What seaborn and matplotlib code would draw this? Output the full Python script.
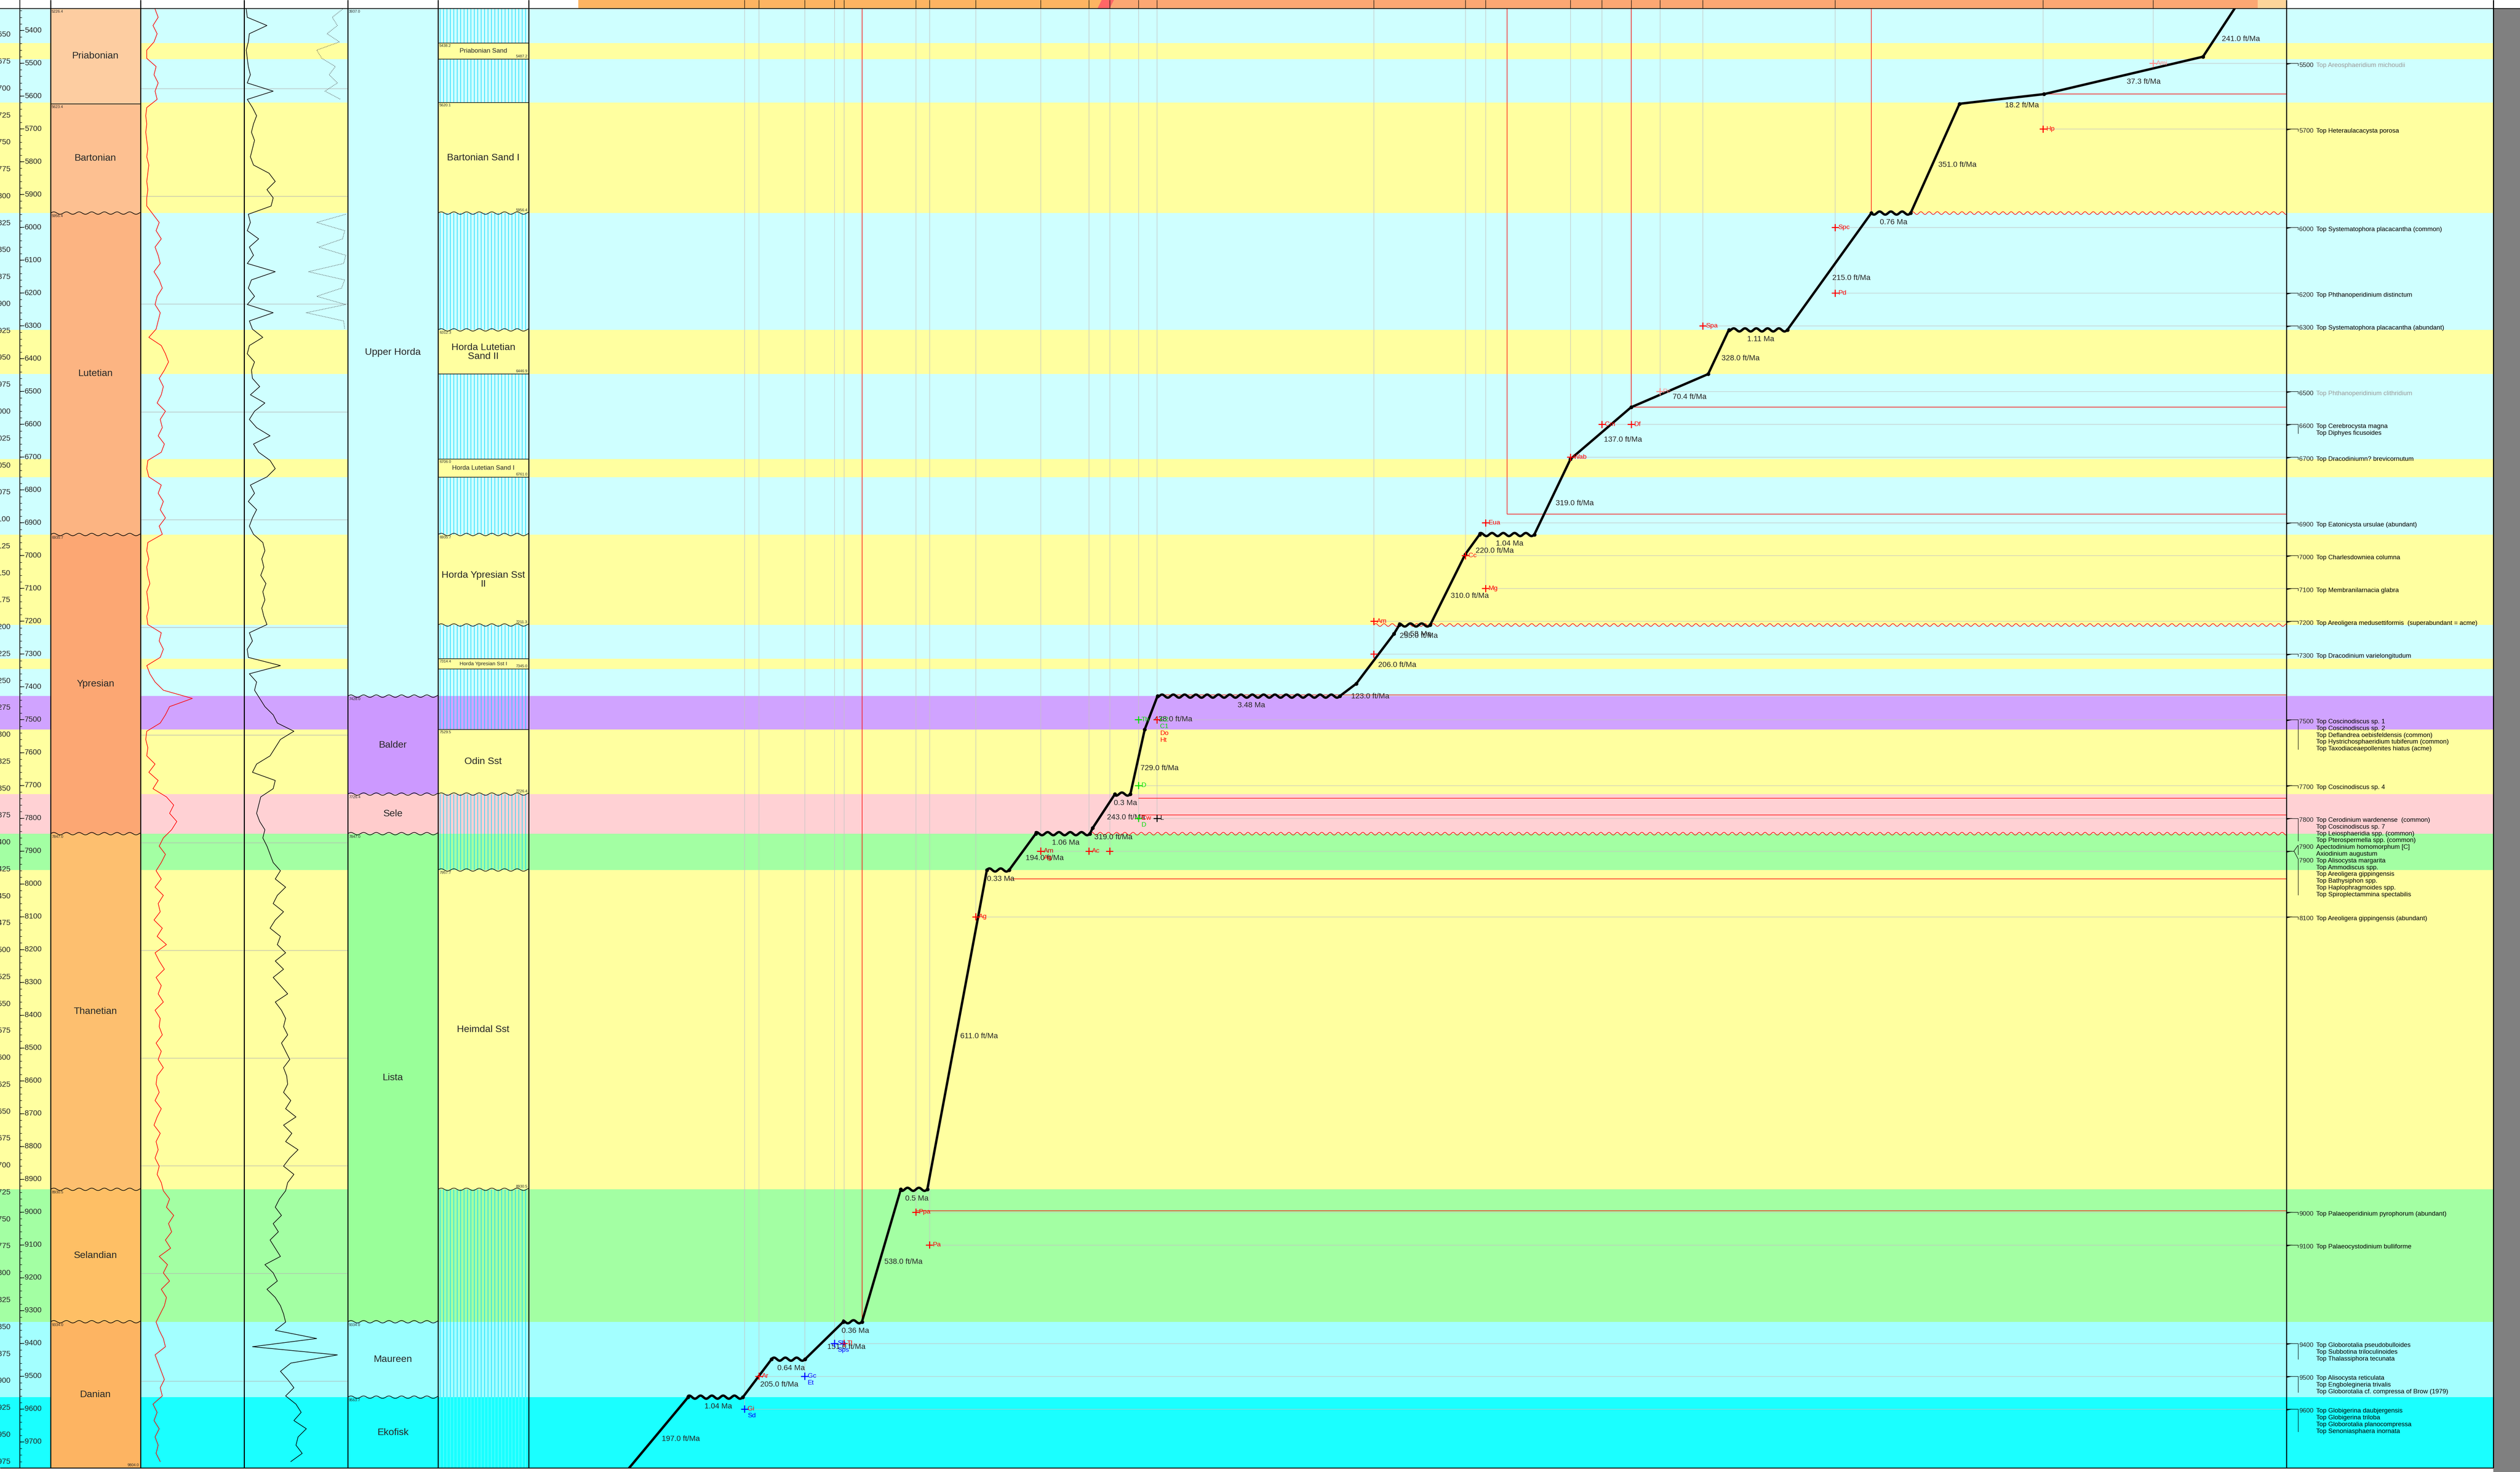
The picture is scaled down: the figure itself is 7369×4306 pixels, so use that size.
import numpy as np
import pandas as pd
import matplotlib
matplotlib.use("Agg")
import matplotlib.pyplot as plt
import seaborn as sns
from matplotlib.patches import Rectangle

sns.set_theme(style="white")
plt.rcParams['font.family'] = ['Liberation Sans', 'DejaVu Sans']

# ---------------- data ----------------
# lithology bands behind the tracks (depth in ft)
band_top = [5333.3, 5438.2, 5487.2, 5620.1, 5956.4, 6312.3, 6446.9, 6706.0, 6761.0, 6935.7, 7211.3,
            7314.4, 7345.0, 7428.0, 7529.5, 7726.4, 7847.0, 7957.7, 8930.5, 9334.0, 9563.7]
band_base = band_top[1:] + [9804.0]
band_kind = ['shale', 'sand', 'shale', 'sand', 'shale', 'sand', 'shale', 'sand', 'shale', 'sand', 'shale',
             'sand', 'shale', 'balder', 'sand', 'sele', 'lista', 'sand', 'lista', 'maureen', 'ekofisk']
kind_color = {'shale': '#CFFFFF', 'sand': '#FFFFA0', 'balder': '#D0A3FF', 'sele': '#FFD1D4',
              'lista': '#A3FFA3', 'maureen': '#A3FFFF', 'ekofisk': '#1AFFFF'}

# chronostratigraphy
stage_names = ['Priabonian', 'Bartonian', 'Lutetian', 'Ypresian', 'Thanetian', 'Selandian', 'Danian']
stage_top = [5226.4, 5623.4, 5956.4, 6935.7, 7847.0, 8930.5, 9334.0]
stage_base = [5623.4, 5956.4, 6935.7, 7847.0, 8930.5, 9334.0, 9804.0]
stage_colors = ['#FDCDA1', '#FDC091', '#FCB482', '#FCA773', '#FDBF6F', '#FEBF65', '#FDB462']
stage_wavy = [False, False, True, True, True, True, True]

# lithostratigraphy
fm_names = ['Upper Horda', 'Balder', 'Sele', 'Lista', 'Maureen', 'Ekofisk']
fm_top = [3937.0, 7428.0, 7726.4, 7847.0, 9334.0, 9563.7]
fm_base = [7428.0, 7726.4, 7847.0, 9334.0, 9563.7, 9804.0]
fm_colors = ['#CCFFFF', '#CC99FF', '#FFCCCC', '#99FF99', '#99FFFF', '#1AFFFF']

# sand units
sand_names = ['Priabonian Sand', 'Bartonian Sand I', 'Horda Lutetian\nSand II', 'Horda Lutetian Sand I',
              'Horda Ypresian Sst\nII', 'Horda Ypresian Sst I', 'Odin Sst', 'Heimdal Sst']
sand_top = [5438.2, 5620.1, 6312.3, 6706.0, 6935.7, 7314.4, 7529.5, 7957.7]
sand_base = [5487.2, 5956.4, 6446.9, 6761.0, 7211.3, 7345.0, 7726.4, 8930.5]
sand_wavy = [5956.4, 6312.3, 6935.7, 7211.3, 7726.4, 7957.7, 8930.5]

# well logs, sampled every 25 ft from 5335 ft (percent of track width)
log_depth = np.arange(5335, 9761, 25)
gr_pct = [14, 17, 12, 16, 13, 6, 6, 15, 13, 17, 14, 16,
          6, 5, 6, 5, 6, 7, 6, 8, 7, 6, 7, 6, 6,
          12, 18, 15, 20, 14, 17, 19, 13, 18, 21, 16, 14, 19, 17, 15,
          8, 20, 24, 27, 23,
          18, 22, 20, 16, 24, 19, 21, 17, 23, 20,
          7, 6, 8,
          20, 17, 22, 19, 24, 18, 21,
          7, 6, 8, 6, 7, 9, 6, 7, 8, 6, 7,
          20, 18, 22, 19, 6, 9, 14, 22,
          50, 28, 24, 19,
          6, 5, 7, 6, 14, 8, 17, 12,
          25, 32, 28, 35, 30,
          22, 18, 24, 20,
          15, 20, 14, 22, 17, 19, 13, 21, 16, 25, 14, 18, 23, 15, 20, 17, 22, 14, 19,
          18, 21, 15, 20, 17, 22, 16,
          15, 18, 14, 20, 16, 13, 19, 15, 17, 14, 18, 16, 20,
          22, 28, 25, 32, 27, 30, 24, 29, 18, 26, 22, 28, 20, 25, 23, 19,
          15, 18, 22, 24, 14, 17, 20, 23, 19, 21,
          12, 16, 13, 18, 14, 17, 15, 19]
res_pct = [2, 3, 22, 5, 4, 2, 3, 4, 6, 3, 28, 3,
           8, 12, 9, 7, 10, 8, 6, 9, 24, 30, 22, 28, 26,
           4, 6, 3, 14, 5, 9, 3, 30, 7, 4, 10, 3, 28, 5, 8,
           18, 5, 3, 10, 7,
           8, 15, 6, 20, 10, 5, 12, 25, 9, 14,
           25, 30, 22,
           6, 10, 4, 12, 8, 5, 9,
           18, 20, 17, 19, 16, 21, 18, 20, 17, 19, 22,
           5, 8, 3, 4, 35, 5, 12, 10,
           15, 20, 28, 32,
           48, 35, 30, 25, 12, 8, 30, 28,
           16, 14, 12, 15, 20,
           18, 22, 25, 28,
           35, 30, 40, 32, 28, 38, 30, 25, 35, 32, 40, 30, 38, 28, 35, 42, 30, 36, 40,
           38, 42, 36, 40, 44, 38, 41,
           42, 38, 45, 40, 50, 38, 46, 40, 52, 44, 38, 48, 42,
           40, 34, 30, 36, 28, 33, 25, 30, 35, 20, 28, 32, 22, 30, 35, 38,
           40, 30, 70, 8, 90, 45, 35, 42, 48, 40,
           50, 55, 48, 60, 52, 50, 56, 45]
son1_depth = np.arange(5335, 5611, 25)
son1_pct = [95, 85, 90, 80, 92, 70, 75, 88, 82, 90, 78, 93]
son2_depth = np.arange(5960, 6311, 25)
son2_pct = [98, 70, 97, 95, 72, 98, 96, 62, 97, 94, 70, 98, 60, 96, 97]

# age-depth line (age Ma, depth ft)
age_pts = [34.70, 35.43, 38.42, 40.01, 40.93, 41.67, 43.25, 44.35, 44.74, 46.19, 47.33, 48.01, 49.04,
           49.31, 49.97, 50.55, 50.65, 51.36, 51.67, 55.10, 55.34, 55.61, 55.90, 56.32, 56.37, 57.39,
           57.89, 58.31, 59.43, 59.93, 60.66, 61.01, 61.73, 62.36, 62.90, 63.93, 65.30]
depth_pts = [5300, 5480, 5594, 5623.4, 5956.4, 5956.4, 6312.3, 6312.3, 6446.9, 6548, 6706, 6935.7, 6935.7,
             6996, 7211.3, 7211.3, 7238, 7390, 7428, 7428, 7529.5, 7726.4, 7726.4, 7830, 7847, 7847,
             7957.7, 7957.7, 8930.5, 8930.5, 9334, 9334, 9448, 9448, 9563.7, 9563.7, 9830]
seg_labels = ['241.0 ft/Ma', '37.3 ft/Ma', '18.2 ft/Ma', '351.0 ft/Ma', '0.76 Ma', '215.0 ft/Ma', '1.11 Ma',
              '328.0 ft/Ma', '70.4 ft/Ma', '137.0 ft/Ma', '319.0 ft/Ma', '1.04 Ma', '220.0 ft/Ma',
              '310.0 ft/Ma', '0.58 Ma', '255.0 ft/Ma', '206.0 ft/Ma', '123.0 ft/Ma', '3.48 Ma', '438.0 ft/Ma',
              '729.0 ft/Ma', '0.3 Ma', '243.0 ft/Ma', '319.0 ft/Ma', '1.06 Ma', '194.0 ft/Ma', '0.33 Ma',
              '611.0 ft/Ma', '0.5 Ma', '538.0 ft/Ma', '0.36 Ma', '151.0 ft/Ma', '0.64 Ma', '205.0 ft/Ma',
              '1.04 Ma', '197.0 ft/Ma']

# biostratigraphic markers on the age-depth plot
mk_age = [36.37, 38.44, 42.35, 42.35, 44.84, 45.65, 46.74, 46.19, 47.33, 48.93, 49.31, 48.93, 51.03, 51.03,
          55.46, 55.11, 55.11, 55.11, 55.11, 55.46, 55.46, 55.46, 55.11, 57.30, 57.30, 56.39, 56.00, 58.52,
          59.65, 59.39, 61.18, 61.18, 61.00, 62.60, 61.74, 61.74, 62.87, 62.87]
mk_depth = [5500, 5700, 6000, 6200, 6300, 6500, 6600, 6600, 6700, 6900, 7000, 7100, 7200, 7300,
            7500, 7500, 7500, 7500, 7500, 7700, 7800, 7800, 7800, 7900, 7900, 7900, 7900, 8100,
            9000, 9100, 9400, 9400, 9400, 9500, 9500, 9500, 9600, 9600]
mk_code = ['Ami', 'Hp', 'Spc', 'Pd', 'Spa', 'Pc', 'Cm', 'Df', 'Wab', 'Eua', 'Cc', 'Mg', 'Am', '',
           'Th', 'C2', 'C1', 'Do', 'Ht', 'D', 'Cw', 'D', 'L', 'Am', 'Ag', 'Ac', '', 'Ag',
           'Ppa', 'Pa', 'Sb', 'Sps', 'Tl', 'Ar', 'Gc', 'Et', 'Gi', 'Sd']
mk_color = ['#FF8C8C', 'red', 'red', 'red', 'red', '#FF8C8C', 'red', 'red', 'red', 'red', 'red', 'red', 'red', 'red',
            '#00E000', '#00E000', '#00E000', 'red', 'red', '#00E000', 'red', '#00E000', 'black', '#CC0000', 'red',
            'red', 'red', 'red', 'red', 'red', 'blue', 'blue', 'red', 'red', 'blue', 'blue', 'red', 'blue']

# red correlation lines
red_h_depth = [5594, 6548, 6874, 7425, 7739, 7790, 7985, 8996]
red_h_age = [38.42, 46.19, 48.52, 55.11, 55.46, 55.46, 57.89, 59.65]
red_v_age = [41.67, 46.19, 48.52, 60.66]
red_v_depth = [5956.4, 6548, 6874, 9334]
red_wavy_age = [40.93, 51.03, 56.37]
red_wavy_depth = [5956.4, 7211.3, 7847.0]

# epochs in the header bar
epoch_old = [66.0, 56.0, 34.4]
epoch_young = [56.0, 34.4, 33.86]
epoch_color = ['#FDB462', '#FCA773', '#FED49A']

# event list (right track)
evt_depth = [5500, 5700, 6000, 6200, 6300, 6500, 6600, 6700, 6900, 7000, 7100, 7200, 7300, 7500, 7700,
             7800, 7900, 7900, 8100, 9000, 9100, 9400, 9500, 9600]
evt_lines = [
    ["Top Areosphaeridium michoudii"],
    ["Top Heteraulacacysta porosa"],
    ["Top Systematophora placacantha (common)"],
    ["Top Phthanoperidinium distinctum"],
    ["Top Systematophora placacantha (abundant)"],
    ["Top Phthanoperidinium clithridium"],
    ["Top Cerebrocysta magna", "Top Diphyes ficusoides"],
    ["Top Dracodiniumn? brevicornutum"],
    ["Top Eatonicysta ursulae (abundant)"],
    ["Top Charlesdowniea columna"],
    ["Top Membranilarnacia glabra"],
    ["Top Areoligera medusettiformis  (superabundant = acme)"],
    ["Top Dracodinium varielongitudum"],
    ["Top Coscinodiscus sp. 1", "Top Coscinodiscus sp. 2", "Top Deflandrea oebisfeldensis (common)",
     "Top Hystrichosphaeridium tubiferum (common)", "Top Taxodiaceaepollenites hiatus (acme)"],
    ["Top Coscinodiscus sp. 4"],
    ["Top Cerodinium wardenense  (common)", "Top Coscinodiscus sp. 7", "Top Leiosphaeridia spp. (common)",
     "Top Pterospermella spp. (common)"],
    ["Apectodinium homomorphum [C]", "Axiodinium augustum"],
    ["Top Alisocysta margarita", "Top Ammodiscus spp.", "Top Areoligera gippingensis", "Top Bathysiphon spp.",
     "Top Haplophragmoides spp.", "Top Spiroplectammina spectabilis"],
    ["Top Areoligera gippingensis (abundant)"],
    ["Top Palaeoperidinium pyrophorum (abundant)"],
    ["Top Palaeocystodinium bulliforme"],
    ["Top Globorotalia pseudobulloides", "Top Subbotina triloculinoides", "Top Thalassiphora tecunata"],
    ["Top Alisocysta reticulata", "Top Engbolegineria trivalis", "Top Globorotalia cf. compressa of Brow (1979)"],
    ["Top Globigerina daubjergensis", "Top Globigerina triloba", "Top Globorotalia planocompressa",
     "Top Senoniasphaera inornata"],
]
evt_faded = [True, False, False, False, False, True] + [False] * 18

# ---------------- layout ----------------
W, H, DPI = 7369, 4306, 100
Y0, Y1 = 25, 4294
D_TOP, D_BOT = 5333.3, 9779.2
AGE_L, AGE_R = 66.93, 33.86
PPF = (Y1 - Y0) / (D_BOT - D_TOP)

fig = plt.figure(figsize=(W / DPI, H / DPI), dpi=DPI)
fig.patch.set_facecolor('white')


def col_axes(x0, x1, xlim=None):
    ax = fig.add_axes([x0 / W, 1 - Y1 / H, (x1 - x0) / W, (Y1 - Y0) / H])
    ax.set_xlim(*(xlim or (0, x1 - x0)))
    ax.set_ylim(D_BOT, D_TOP)
    ax.axis('off')
    return ax


def draw_bands(ax):
    for t, b, k in zip(band_top, band_base, band_kind):
        ax.axhspan(t, b, color=kind_color[k], lw=0, zorder=0)


def wavy(ax, x0, x1, y, amp=3.5, wl=37.0, **kw):
    tr = ax.transData
    (px0, py), (px1, _) = tr.transform([(x0, y), (x1, y)])
    n = int(abs(px1 - px0) / wl * 24) + 2
    px = np.linspace(px0, px1, n)
    pyy = py + amp * np.sin(2 * np.pi * (px - px0) / wl)
    pts = tr.inverted().transform(np.column_stack([px, pyy]))
    ax.plot(pts[:, 0], pts[:, 1], **kw)


# depth axis track
ax_dp = col_axes(0, 148)
draw_bands(ax_dp)
major = np.arange(5400, 9800, 100)
minor = np.arange(5340, 9780, 20)
ax_dp.vlines(58, D_TOP, D_BOT, color='black', lw=1.5)
ax_dp.hlines(minor, 58, 64, color='black', lw=1)
ax_dp.hlines(major, 58, 71, color='black', lw=1.2)
for d in major:
    ax_dp.text(72, d, f"{d}", ha='left', va='center', fontsize=16)
for m in range(1625, 3000, 25):
    f = m * 3.28084
    if D_TOP < f < D_BOT:
        ax_dp.text(31, f, str(m), ha='right', va='center', fontsize=16)

# stage track
ax_st = col_axes(148, 411)
for name, t, b, c, wv in zip(stage_names, stage_top, stage_base, stage_colors, stage_wavy):
    ax_st.axhspan(t, b, color=c, lw=0)
    ax_st.text(131, (max(t, D_TOP) + min(b, D_BOT)) / 2, name, ha='center', va='center', fontsize=20.5)
    if t > D_TOP:
        if wv:
            wavy(ax_st, 0, 263, t, color='black', lw=1.3)
        else:
            ax_st.axhline(t, color='black', lw=1.3)
    ax_st.text(3, max(t, D_TOP) + 4 / PPF, f"{t:.1f}", ha='left', va='top', fontsize=8)
ax_st.text(258, D_BOT - 3 / PPF, f"{stage_base[-1]:.1f}", ha='right', va='bottom', fontsize=8)

# log tracks
grid_ft = [m * 3.28084 for m in range(1700, 3000, 100)]
ax_gr = col_axes(411, 714, xlim=(0, 100))
draw_bands(ax_gr)
ax_gr.hlines(grid_ft, 0, 100, color='#B4B4B4', lw=1)
sns.lineplot(x=gr_pct, y=log_depth, orient='y', sort=False, estimator=None, color='red', lw=1.3, ax=ax_gr)

ax_rs = col_axes(714, 1017, xlim=(0, 100))
draw_bands(ax_rs)
ax_rs.hlines(grid_ft, 0, 100, color='#B4B4B4', lw=1)
sns.lineplot(x=res_pct, y=log_depth, orient='y', sort=False, estimator=None, color='black', lw=1.3, ax=ax_rs)
for dd, vv in [(son1_depth, son1_pct), (son2_depth, son2_pct)]:
    sns.lineplot(x=vv, y=dd, orient='y', sort=False, estimator=None, color='#333333', lw=1.2,
                 linestyle=':', ax=ax_rs)
for a in (ax_gr, ax_rs):
    a.set_xlim(0, 100)
    a.set_ylim(D_BOT, D_TOP)
    a.axis('off')

# formation track
ax_fm = col_axes(1017, 1281)
for name, t, b, c in zip(fm_names, fm_top, fm_base, fm_colors):
    ax_fm.axhspan(t, b, color=c, lw=0)
    ax_fm.text(132, (max(t, D_TOP) + min(b, D_BOT)) / 2, name, ha='center', va='center', fontsize=20.5)
    if t > D_TOP:
        wavy(ax_fm, 0, 264, t, color='black', lw=1.3)
    ax_fm.text(3, max(t, D_TOP) + 4 / PPF, f"{t:.1f}", ha='left', va='top', fontsize=8)

# sand track
ax_sd = col_axes(1281, 1546)
draw_bands(ax_sd)
hatch_x = np.arange(6, 262, 10)
for t, b, k in zip(band_top, band_base, band_kind):
    if k != 'sand':
        ax_sd.vlines(hatch_x, t, b, color='#66FFFF' if k == 'ekofisk' else '#00D8FF', lw=1.1)
for name, t, b in zip(sand_names, sand_top, sand_base):
    thick = b - t
    fs = 11 if thick < 40 else (13.5 if thick < 80 else 20.5)
    ax_sd.text(132, (t + min(b, D_BOT)) / 2, name, ha='center', va='center', fontsize=fs, linespacing=1.0)
    ax_sd.text(4, t + 3 / PPF, f"{t:.1f}", ha='left', va='top', fontsize=8)
    ax_sd.text(261, b - 3 / PPF, f"{b:.1f}", ha='right', va='bottom', fontsize=8)
    for d in (t, b):
        if d in sand_wavy:
            wavy(ax_sd, 0, 265, d, color='black', lw=1.2)
        else:
            ax_sd.axhline(d, color='black', lw=1.2)

# age-depth panel
ax_m = col_axes(1546, 6686, xlim=(AGE_L, AGE_R))
draw_bands(ax_m)
mk = pd.DataFrame(dict(age=mk_age, depth=mk_depth, code=mk_code, color=mk_color))
for a, g in mk.groupby('age'):
    ax_m.vlines(a, D_TOP, g.depth.max(), color='#C4C4C4', lw=1, zorder=1)
for d, g in mk.groupby('depth'):
    ax_m.hlines(d, g.age.max(), AGE_R, color='#C4C4C4', lw=1, zorder=1)
ax_m.hlines(red_h_depth, red_h_age, AGE_R, color='red', lw=1.2, zorder=2)
ax_m.vlines(red_v_age, D_TOP, red_v_depth, color='red', lw=1.2, zorder=2)
for a, d in zip(red_wavy_age, red_wavy_depth):
    wavy(ax_m, a, AGE_R, d, amp=4, wl=24, color='red', lw=1.2, zorder=2)

for k, lab in enumerate(seg_labels):
    a0, a1 = age_pts[k], age_pts[k + 1]
    d0, d1 = depth_pts[k], depth_pts[k + 1]
    if d0 == d1:
        wavy(ax_m, a0, a1, d0, amp=4.5, wl=33, color='black', lw=5, zorder=4, solid_capstyle='round')
        ax_m.annotate(lab, ((a0 + a1) / 2, d0), xytext=(8, -27), textcoords='offset pixels',
                      ha='center', va='center', fontsize=16, zorder=6)
    else:
        ax_m.plot([a0, a1], [d0, d1], color='black', lw=5, zorder=4, solid_capstyle='round')
        if d0 < D_TOP:
            a0 = a0 + (a1 - a0) * (D_TOP - d0) / (d1 - d0)
            d0 = D_TOP
        if d1 > D_BOT:
            a1 = a0 + (a1 - a0) * (D_BOT - d0) / (d1 - d0)
            d1 = D_BOT
        ax_m.annotate(lab, ((a0 + a1) / 2, (d0 + d1) / 2), xytext=(9, -19), textcoords='offset pixels',
                      ha='left', va='center', fontsize=16, zorder=6)
ax_m.plot(age_pts, depth_pts, 'o', color='black', ms=7, zorder=5)

sns.scatterplot(data=mk, x='age', y='depth', hue='color', palette={c: c for c in mk.color.unique()},
                marker='+', s=230, linewidth=2.2, legend=False, ax=ax_m, zorder=6)
seen = {}
for r in mk.itertuples():
    key = (r.age, r.depth)
    k = seen.get(key, 0)
    seen[key] = k + 1
    if r.code:
        ax_m.annotate(r.code, (r.age, r.depth), xytext=(9, -k * 20), textcoords='offset pixels',
                      color=r.color, fontsize=14, ha='left', va='center', zorder=6)
ax_m.set_xlim(AGE_L, AGE_R)
ax_m.set_ylim(D_BOT, D_TOP)
ax_m.axis('off')

# header bar above the age-depth panel
ax_hd = fig.add_axes([1546 / W, 1 - Y0 / H, (6686 - 1546) / W, Y0 / H])
ax_hd.set_xlim(AGE_L, AGE_R)
ax_hd.set_ylim(0, 1)
ax_hd.axis('off')
for t, b, c in zip(epoch_old, epoch_young, epoch_color):
    ax_hd.axvspan(t, b, color=c, lw=0)
ax_hd.vlines(mk.age.unique(), 0, 1, color='black', lw=1)
ax_hd.fill([56.15, 55.92, 56.0, 56.23], [1, 1, 0, 0], color='#FF6666', lw=0)

# event track
ax_ev = col_axes(6686, 7291)
draw_bands(ax_ev)
LH = 19.8 / PPF
prev_end = -1e9
i, n = 0, len(evt_depth)
while i < n:
    j = i
    while j + 1 < n and evt_depth[j + 1] == evt_depth[i]:
        j += 1
    d = evt_depth[i]
    nlines = sum(len(evt_lines[q]) for q in range(i, j + 1))
    start = max(d - (nlines - 1) / 2 * LH if j > i else d, prev_end)
    y = start
    for q in range(i, j + 1):
        ys = [y + m * LH for m in range(len(evt_lines[q]))]
        col = '#9A9A9A' if evt_faded[q] else 'black'
        ax_ev.text(37, ys[0] + 6 / PPF, str(d), ha='left', va='center', fontsize=13.5)
        for yy, s in zip(ys, evt_lines[q]):
            ax_ev.text(87, yy + 6 / PPF, s, ha='left', va='center', fontsize=13.5, color=col)
        ax_ev.plot([22, 34], [d, ys[0]], color='black', lw=1)
        ax_ev.plot([34, 34], [ys[0], ys[-1] + 7 / PPF], color='black', lw=1)
        y = ys[-1] + LH
    ax_ev.plot([0, 22], [d, d], color='black', lw=1)
    ax_ev.fill([1, 18, 1], [d - 0.5, d, d + 4.5], color='black', lw=0)
    prev_end = y
    i = j + 1

# frame lines and right grey strip
ax_ov = fig.add_axes([0, 0, 1, 1])
ax_ov.set_xlim(0, W)
ax_ov.set_ylim(H, 0)
ax_ov.axis('off')
ax_ov.patch.set_alpha(0)
ax_ov.add_patch(Rectangle((7291, Y0), W - 7291, H - Y0, color='#808080', lw=0))
ax_ov.vlines([148, 411, 714, 1017, 1281, 1546, 6686, 7291], 0, Y1, color='black', lw=2.2)
ax_ov.vlines(58, 0, Y1, color='black', lw=1.5)
ax_ov.hlines(Y0, 0, W, color='black', lw=1.5)
ax_ov.hlines(Y1, 0, 7291, color='black', lw=2)

fig.savefig("out.png", dpi=DPI)
